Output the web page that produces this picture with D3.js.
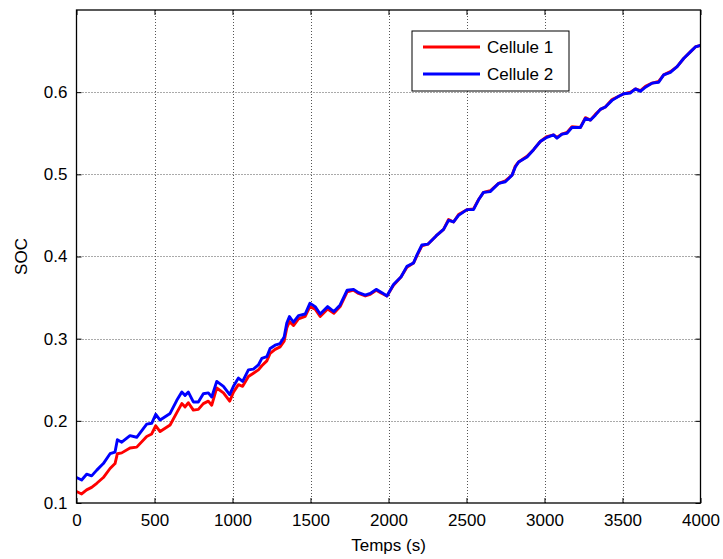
<!DOCTYPE html>
<html>
<head>
<meta charset="utf-8">
<script src="https://cdn.jsdelivr.net/npm/d3@7"></script>
<style>
  body { margin: 0; background: #fff; }
  svg { display: block; font-family: "Liberation Sans", Arial, sans-serif; }
</style>
</head>
<body>
<svg id="chart"></svg>
<script>
// SOC of two cells over time
const times = [0, 33, 65, 97, 130, 172, 215, 247, 262, 290, 343, 386, 450, 482, 508, 536, 600, 643, 675, 696,
  717, 749, 781, 813, 845, 867, 899, 942, 982, 1006, 1038, 1065, 1102, 1134, 1166, 1188, 1220, 1241, 1273, 1305,
  1331, 1348, 1365, 1391, 1423, 1466, 1496, 1530, 1562, 1610, 1650, 1690, 1735, 1776, 1808, 1851, 1883, 1921, 1958, 1990,
  2032, 2080, 2118, 2160, 2185, 2214, 2252, 2305, 2353, 2385, 2417, 2449, 2503, 2545, 2577, 2609, 2652, 2706, 2749, 2792,
  2813, 2834, 2888, 2930, 2973, 3016, 3058, 3080, 3112, 3144, 3176, 3230, 3262, 3294, 3326, 3358, 3390, 3433, 3476, 3508,
  3551, 3583, 3615, 3647, 3690, 3732, 3764, 3807, 3850, 3892, 3935, 3967, 4000];

const cellule1 = [0.114, 0.111, 0.116, 0.119, 0.124, 0.131, 0.142, 0.148, 0.160, 0.161, 0.167, 0.168, 0.181, 0.184, 0.194, 0.187, 0.195, 0.210, 0.221, 0.217,
  0.222, 0.213, 0.214, 0.221, 0.224, 0.219, 0.240, 0.234, 0.224, 0.235, 0.244, 0.242, 0.254, 0.258, 0.262, 0.267, 0.273, 0.282, 0.287, 0.290,
  0.297, 0.313, 0.321, 0.316, 0.324, 0.327, 0.339, 0.336, 0.327, 0.336, 0.331, 0.339, 0.357, 0.359, 0.355, 0.352, 0.354, 0.359, 0.355, 0.352,
  0.365, 0.375, 0.387, 0.392, 0.402, 0.413, 0.415, 0.425, 0.433, 0.445, 0.442, 0.451, 0.457, 0.458, 0.469, 0.478, 0.480, 0.489, 0.492, 0.499,
  0.510, 0.515, 0.522, 0.530, 0.540, 0.546, 0.548, 0.545, 0.549, 0.551, 0.558, 0.557, 0.569, 0.566, 0.573, 0.579, 0.582, 0.591, 0.595, 0.598,
  0.600, 0.604, 0.602, 0.607, 0.611, 0.613, 0.621, 0.625, 0.631, 0.641, 0.649, 0.655, 0.657];

const cellule2 = [0.131, 0.128, 0.135, 0.133, 0.140, 0.148, 0.160, 0.162, 0.177, 0.174, 0.182, 0.180, 0.196, 0.197, 0.208, 0.201, 0.209, 0.225, 0.235, 0.231,
  0.235, 0.223, 0.223, 0.233, 0.234, 0.229, 0.248, 0.242, 0.232, 0.242, 0.252, 0.248, 0.262, 0.263, 0.268, 0.276, 0.278, 0.288, 0.292, 0.294,
  0.302, 0.319, 0.327, 0.320, 0.328, 0.330, 0.343, 0.339, 0.330, 0.339, 0.333, 0.341, 0.359, 0.360, 0.356, 0.353, 0.355, 0.360, 0.356, 0.352,
  0.366, 0.375, 0.388, 0.392, 0.403, 0.414, 0.415, 0.425, 0.433, 0.444, 0.442, 0.450, 0.457, 0.457, 0.469, 0.478, 0.479, 0.489, 0.491, 0.499,
  0.509, 0.515, 0.521, 0.530, 0.540, 0.545, 0.548, 0.544, 0.549, 0.550, 0.557, 0.557, 0.568, 0.566, 0.572, 0.579, 0.582, 0.590, 0.595, 0.598,
  0.599, 0.604, 0.601, 0.606, 0.611, 0.612, 0.621, 0.624, 0.631, 0.641, 0.649, 0.655, 0.657];

const xTicks = [0, 500, 1000, 1500, 2000, 2500, 3000, 3500, 4000];
const yTicks = [0.1, 0.2, 0.3, 0.4, 0.5, 0.6];
const seriesNames = ["Cellule 1", "Cellule 2"];
const seriesColors = ["#ff0000", "#0000ff"];

const width = 723, height = 559;
const plotLeft = 76.5, plotRight = 700.5, plotTop = 10, plotBottom = 503;

const svg = d3.select("#chart").attr("width", width).attr("height", height);

const x = d3.scaleLinear().domain([0, 4000]).range([plotLeft, plotRight]);
const y = d3.scaleLinear().domain([0.1, 0.7]).range([plotBottom, plotTop]);

// grid
const grid = svg.append("g").attr("stroke", "#555").attr("stroke-width", 1).attr("stroke-dasharray", "1,2");
grid.selectAll(".gx").data(xTicks.slice(1, -1)).enter().append("line")
  .attr("x1", d => Math.round(x(d)) + 0.5).attr("x2", d => Math.round(x(d)) + 0.5)
  .attr("y1", plotTop).attr("y2", plotBottom);
grid.selectAll(".gy").data(yTicks.slice(1)).enter().append("line")
  .attr("x1", plotLeft).attr("x2", plotRight)
  .attr("y1", d => Math.round(y(d)) + 0.5).attr("y2", d => Math.round(y(d)) + 0.5);

// lines
const line = d3.line().x((d, i) => x(times[i])).y(d => y(d));
[cellule1, cellule2].forEach((s, i) => {
  svg.append("path").datum(s)
    .attr("fill", "none")
    .attr("stroke", seriesColors[i])
    .attr("stroke-width", 2.9)
    .attr("stroke-linejoin", "round")
    .attr("d", line);
});

// axes (ticks inside, on all four sides)
const tickLen = 5;
const axB = d3.axisBottom(x).tickValues(xTicks).tickSize(-tickLen).tickPadding(11).tickFormat(d3.format("d"));
const axL = d3.axisLeft(y).tickValues(yTicks).tickSize(-tickLen).tickPadding(9).tickFormat(d3.format(".1f"));
const axT = d3.axisTop(x).tickValues(xTicks).tickSize(-tickLen).tickFormat("");
const axR = d3.axisRight(y).tickValues(yTicks).tickSize(-tickLen).tickFormat("");

function styleAxis(g) {
  g.select(".domain").remove();
  g.selectAll("line").attr("stroke", "#000");
  g.selectAll("text").attr("fill", "#000").style("font-size", "17px")
    .style("font-family", "'Liberation Sans', Arial, sans-serif");
}
svg.append("g").attr("transform", `translate(0,${plotBottom})`).call(axB).call(styleAxis);
svg.append("g").attr("transform", `translate(${plotLeft},0)`).call(axL).call(styleAxis);
svg.append("g").attr("transform", `translate(0,${plotTop})`).call(axT).call(styleAxis);
svg.append("g").attr("transform", `translate(${plotRight},0)`).call(axR).call(styleAxis);

// frame
svg.append("rect").attr("x", plotLeft).attr("y", plotTop)
  .attr("width", plotRight - plotLeft).attr("height", plotBottom - plotTop)
  .attr("fill", "none").attr("stroke", "#000").attr("stroke-width", 1.3);

// axis titles
svg.append("text").attr("x", (plotLeft + plotRight) / 2).attr("y", 551)
  .attr("text-anchor", "middle").style("font-size", "17px").text("Temps (s)");
svg.append("text").attr("transform", `translate(27,${(plotTop + plotBottom) / 2}) rotate(-90)`)
  .attr("text-anchor", "middle").style("font-size", "17px").text("SOC");

// legend
const lg = svg.append("g").attr("transform", "translate(412,31)");
lg.append("rect").attr("width", 157).attr("height", 60)
  .attr("fill", "#fff").attr("stroke", "#000").attr("stroke-width", 1);
seriesNames.forEach((name, i) => {
  const yy = 16 + i * 27;
  lg.append("line").attr("x1", 11).attr("x2", 68).attr("y1", yy).attr("y2", yy)
    .attr("stroke", seriesColors[i]).attr("stroke-width", 2.9);
  lg.append("text").attr("x", 75).attr("y", yy + 6).style("font-size", "17px").text(name);
});
</script>
</body>
</html>
